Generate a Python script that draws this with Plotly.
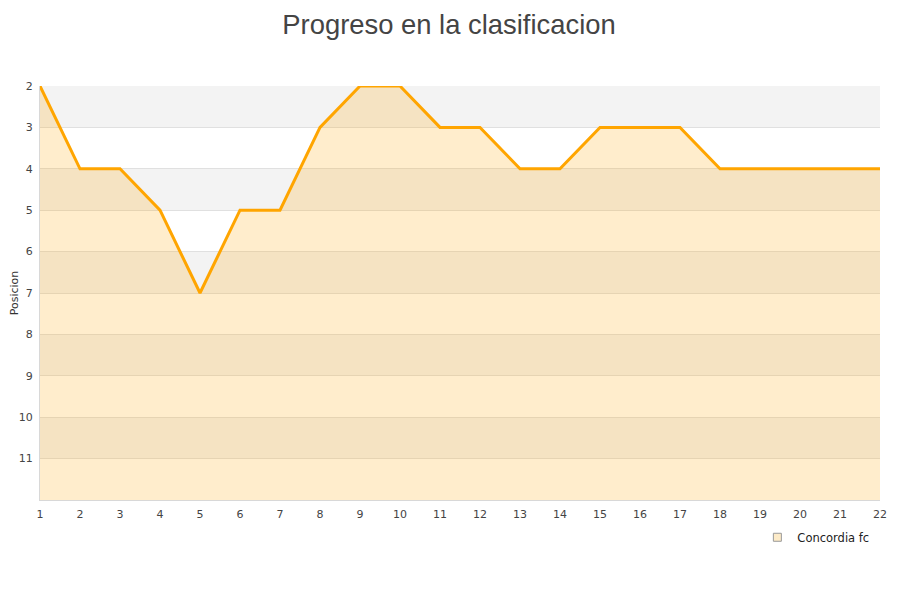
import plotly.graph_objects as go

jornadas = list(range(1, 23))
posicion = [2, 4, 4, 5, 7, 5, 5, 3, 2, 2, 3, 3, 4, 4, 3, 3, 3, 4, 4, 4, 4, 4]
y_ticks = list(range(2, 12))
y_bottom = 12
team = "Concordia fc"

fig = go.Figure()
fig.add_trace(go.Scatter(x=jornadas, y=[y_bottom] * len(jornadas), mode="lines",
                         line=dict(width=0), showlegend=False, hoverinfo="skip"))
fig.add_trace(go.Scatter(x=jornadas, y=posicion, mode="lines", name=team, showlegend=False,
                         fill="tonexty", fillcolor="rgba(255,165,0,0.2)",
                         line=dict(color="#FFA500", width=3)))
fig.add_trace(go.Scatter(x=[None], y=[None], mode="markers", name=team,
                         marker=dict(symbol="square", size=8, color="#fdebc8",
                                     line=dict(color="#999", width=1))))

shapes = []
for t in y_ticks[::2]:
    shapes.append(dict(type="rect", xref="paper", yref="y", x0=0, x1=1, y0=t, y1=t + 1,
                       fillcolor="#f3f3f3", line=dict(width=0), layer="below"))

fig.update_layout(
    width=900, height=600,
    paper_bgcolor="white", plot_bgcolor="white",
    title=dict(text="Progreso en la clasificacion", x=0.49, xanchor="center", y=0.972, yanchor="middle",
               font=dict(family="Liberation Sans", size=27.4, color="#444")),
    margin=dict(l=32, r=28, t=78, b=108, autoexpand=False),
    shapes=shapes,
    showlegend=True,
    legend=dict(x=0.854, xanchor="left", y=-0.055, yanchor="top", orientation="h",
                font=dict(family="DejaVu Sans", size=11.5, color="#222"), itemwidth=30,
                bgcolor="rgba(0,0,0,0)"),
    font=dict(family="DejaVu Sans", size=11, color="#444"),
)
fig.update_xaxes(range=[1, 22], tickmode="array", tickvals=jornadas, showgrid=False,
                 showline=True, linecolor="#d8d8d8", linewidth=1, zeroline=False, ticks="",
                 automargin=False, ticklabelstandoff=4, tickfont=dict(size=11, color="#444"))
fig.update_yaxes(range=[y_bottom, 2], tickmode="array", tickvals=y_ticks, showgrid=True,
                 gridcolor="#e0e0e0", gridwidth=1, showline=True, linecolor="#d8d8d8",
                 zeroline=False, ticks="", automargin=False, ticklabelstandoff=4,
                 title=dict(text="Posicion", font=dict(size=11, color="#333"), standoff=12),
                 tickfont=dict(size=11, color="#444"))
fig.write_html("out.html")
